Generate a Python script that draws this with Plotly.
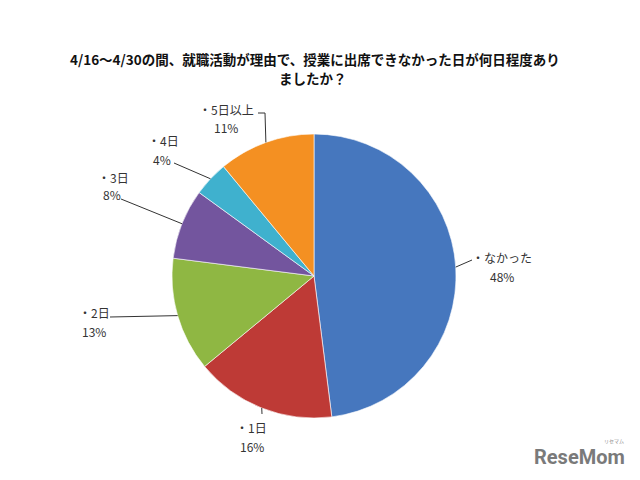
import math
import plotly.graph_objects as go

# ---- data ----
categories = ["なかった", "1日", "2日", "3日", "4日", "5日以上"]
values = [48, 16, 13, 8, 4, 11]
colors = ["#4677BE", "#BE3A36", "#8FB743", "#73559E", "#3FB1CE", "#F49022"]
title_lines = ["4/16～4/30の間、就職活動が理由で、授業に出席できなかった日が何日程度あり", "ましたか？"]

# ---- layout (pixels) ----
W, H = 640, 480
CX, CY, R = 314, 276, 142

def px(x):
    return x / W

def py(y):
    return 1 - y / H

# label positions: (name center, pct center, leader anchor points)
label_style = {
    "なかった": ((502, 257), (502, 276), [(472, 260)]),
    "1日": ((251, 427), (252, 446), [(262, 414)]),
    "2日": ((94, 312), (94, 331), [(110, 317)]),
    "3日": ((113, 177), (112, 194), [(121, 199)]),
    "4日": ((163, 141), (162, 160), [(174, 163)]),
    "5日以上": ((226, 110), (226, 128), [(258, 113), (265, 113)]),
}

fig = go.Figure(go.Pie(
    labels=categories,
    values=values,
    sort=False,
    direction="clockwise",
    rotation=0,
    marker=dict(colors=colors, line=dict(color="rgba(255,255,255,0.6)", width=1)),
    textinfo="none",
    hoverinfo="label+percent",
    showlegend=False,
    domain=dict(x=[px(CX - R), px(CX + R)], y=[py(CY + R), py(CY - R)]),
))

total = sum(values)
annotations = []
shapes = []
cum = 0
lab_font = dict(family="Noto Sans CJK JP", size=12, color="#333333")
for cat, v in zip(categories, values):
    mid = (cum + v / 2) / total * 2 * math.pi
    cum += v
    tx = CX + R * math.sin(mid)
    ty = CY - R * math.cos(mid)
    (nx, ny), (qx, qy), anchors = label_style[cat]
    annotations.append(dict(text="・" + cat, x=px(nx), y=py(ny), xref="paper", yref="paper",
                            showarrow=False, font=lab_font, xanchor="center", yanchor="middle"))
    annotations.append(dict(text=f"{v}%", x=px(qx), y=py(qy), xref="paper", yref="paper",
                            showarrow=False, font=lab_font, xanchor="center", yanchor="middle"))
    pts = anchors + [(tx, ty)]
    path = "M " + " L ".join(f"{px(a)} {py(b)}" for a, b in pts)
    shapes.append(dict(type="path", path=path, xref="paper", yref="paper",
                       line=dict(color="#333333", width=1)))

# title (two lines)
title_font = dict(family="Noto Sans CJK JP", size=13.5, color="#111111")
for (tx_, ty_), line in zip([(315, 59), (313, 78)], title_lines):
    annotations.append(dict(text=f"<b>{line}</b>", x=px(tx_), y=py(ty_), xref="paper", yref="paper",
                            showarrow=False, xanchor="center", yanchor="middle", font=title_font))
# logo
annotations.append(dict(text="<b>ReseMom</b>", x=px(579), y=py(457), xref="paper", yref="paper",
                        showarrow=False, xanchor="center", yanchor="middle",
                        font=dict(family="Roboto", size=20, color="#7a7a7a")))
annotations.append(dict(text="リセマム", x=px(614), y=py(441), xref="paper", yref="paper",
                        showarrow=False, xanchor="center", yanchor="middle",
                        font=dict(family="Noto Sans CJK JP", size=5, color="#8a8a8a")))

fig.update_layout(
    width=W, height=H,
    margin=dict(l=0, r=0, t=0, b=0),
    paper_bgcolor="white",
    plot_bgcolor="white",
    annotations=annotations,
    shapes=shapes,
)

fig.write_html("out.html", config={"displayModeBar": False},
               post_script="document.body.style.margin='0';")
